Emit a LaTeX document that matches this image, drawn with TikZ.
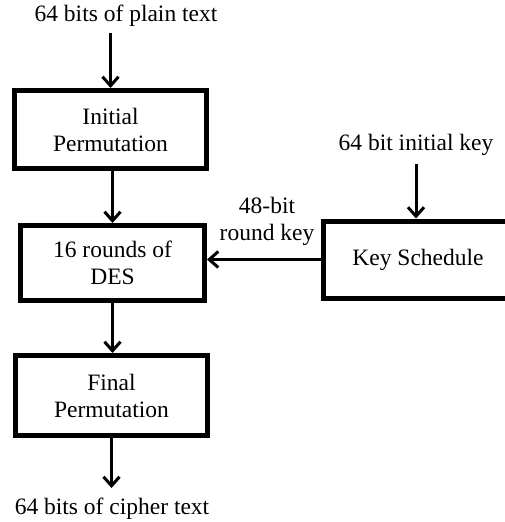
\documentclass[tikz,border=0pt]{standalone}
\usepackage{fontspec}
\setmainfont{Liberation Serif}
\usetikzlibrary{arrows.meta}
\begin{document}
\begin{tikzpicture}[x=1pt, y=-1pt,
		caja/.style={draw, line width=5pt, align=center, inner sep=0pt},
		texto/.style={align=center, inner sep=0pt},
		flecha/.style={line width=3pt, -{Straight Barb[length=9pt, width=16pt, line width=3pt]}}]
	\fontsize{23.5}{27}\selectfont
	\useasboundingbox (0,0) rectangle (505,522);
		% Cajas
			\node[caja, minimum width=192pt, minimum height=78pt] (init) at (110.5,129.5) {Initial\\Permutation};
			\node[caja, minimum width=184pt, minimum height=75pt] (rounds) at (112.5,263) {16 rounds of\\DES};
			\node[caja, minimum width=192pt, minimum height=80pt] (final) at (111.5,395.5) {Final\\Permutation};
			\node[caja, minimum width=190pt, minimum height=77pt] (keysch) at (418,259.5) {Key Schedule};
		% Textos
			\node[texto] (plain) at (126,16) {64 bits of plain text};
			\node[texto] (cipher) at (112,509) {64 bits of cipher text};
			\node[texto] (initkey) at (416,145) {64 bit initial key};
			\node[texto] (roundkey) at (267,221) {48-bit\\round key};
		% Flechas
			\draw[flecha] (init.north |- plain.south) ++(0,6) -- (init.north);
			\draw[flecha] (init.south -| rounds.north) -- (rounds.north);
			\draw[flecha] (rounds.south) -- (rounds.south |- final.north);
			\draw[flecha] (final.south) -- ([yshift=10pt]cipher.north -| final.south);
			\draw[flecha] ([yshift=-8pt]initkey.south) -- (initkey.south |- keysch.north);
			\draw[flecha] (keysch.west) -- (keysch.west -| rounds.east);
\end{tikzpicture}
\end{document}
